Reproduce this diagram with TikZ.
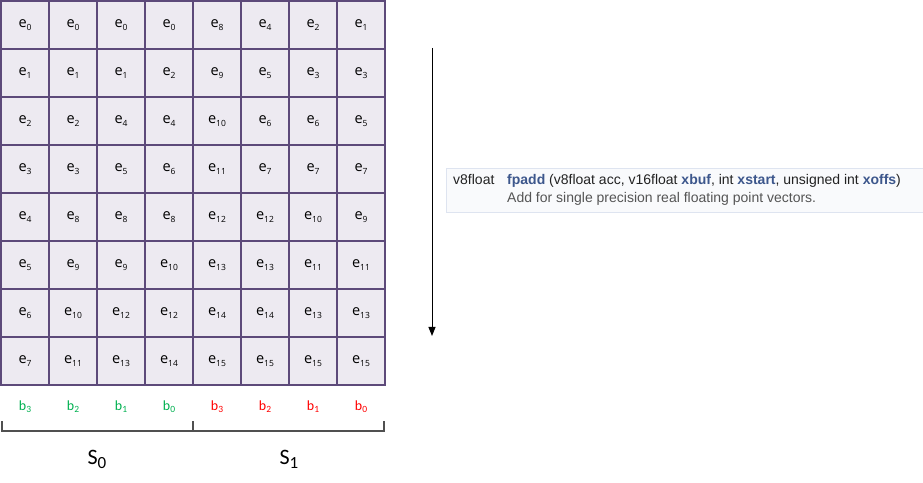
\documentclass[tikz,border=0pt]{standalone}
\usepackage{fontspec}
\usetikzlibrary{arrows.meta}
\newfontfamily\cellfont{Open Sans}
\newfontfamily\calfont{Carlito}
\newfontfamily\docfont{Liberation Sans}
\definecolor{cellfill}{HTML}{EDEAF1}
\definecolor{gridline}{HTML}{5D4A7A}
\definecolor{bgreen}{HTML}{00B050}
\definecolor{bred}{HTML}{FF0000}
\definecolor{fnblue}{HTML}{3D578C}
\definecolor{docborder}{HTML}{DEE4F0}
\definecolor{docfill}{HTML}{F9FAFC}
\definecolor{doctext}{HTML}{222222}
\definecolor{docdesc}{HTML}{555555}
\definecolor{bracketc}{HTML}{505050}
\newcommand\myE[1]{e\raisebox{-2.5bp}{\fontsize{8.5bp}{9bp}\selectfont #1}}
\newcommand\myB[1]{b\raisebox{-2bp}{\fontsize{9.5bp}{10bp}\selectfont #1}}
\newcommand\myS[1]{S\raisebox{-4bp}{\fontsize{17bp}{18bp}\selectfont #1}}
\newcommand\fnb[1]{\textcolor{fnblue}{\bfseries #1}}
\begin{document}
\begin{tikzpicture}[x=1bp,y=-1bp,
  cell/.style={draw=gridline,fill=cellfill,line width=1.2bp,minimum size=48bp,inner sep=0pt,
    font=\cellfont\fontsize{14.5bp}{16bp}\selectfont},
  blab/.style={inner sep=0pt,font=\calfont\fontsize{14bp}{16bp}\selectfont},
  slab/.style={inner sep=0pt,font=\calfont\fontsize{22bp}{24bp}\selectfont},
  doctxt/.style={inner sep=0pt,anchor=base west,font=\docfont\fontsize{14bp}{16bp}\selectfont},
  bracket/.style={draw=bracketc,line width=1.2bp},
  flowarrow/.style={draw=black,line width=1bp,-{Triangle[length=9bp,width=7bp]}}]
\useasboundingbox (0,0) rectangle (923,483);
% grid of cells
\foreach \vals [count=\r from 0] in {{0,0,0,0,8,4,2,1},{1,1,1,2,9,5,3,3},{2,2,4,4,10,6,6,5},{3,3,5,6,11,7,7,7},{4,8,8,8,12,12,10,9},{5,9,9,10,13,13,11,11},{6,10,12,12,14,14,13,13},{7,11,13,14,15,15,15,15}}{
  \foreach \v [count=\c from 0] in \vals {
    \node[cell] (c\r-\c) at ({25+48*\c},{25+48*\r}) {\myE{\v}};
  }
}
% bit labels
\foreach \b [count=\i from 0] in {3,2,1,0}{
  \node[blab,text=bgreen] (g\i) at ({25+48*\i},407) {\myB{\b}};
  \node[blab,text=bred] (h\i) at ({217+48*\i},407) {\myB{\b}};
}
% brackets
\coordinate (bl1) at (2,421);
\coordinate (bl2) at (2,431);
\coordinate (bm1) at (193,421);
\coordinate (bm2) at (193,431);
\coordinate (br1) at (384,421);
\coordinate (br2) at (384,431);
\draw[bracket] (bl1) -- (bl2) -- (br2) -- (br1);
\draw[bracket] (bm1) -- (bm2);
\node[slab] (s0) at (97,459) {\myS{0}};
\node[slab] (s1) at (289,459) {\myS{1}};
% arrow
\coordinate (atop) at (432,48);
\coordinate (abot) at (432,336);
\draw[flowarrow] (atop) -- (abot);
% doc box
\draw[draw=docborder,fill=docfill,line width=1bp] (446,169) rectangle (923.5,213);
\node[doctxt,text=doctext] (rtype) at (453,185) {v8float};
\node[doctxt,text=doctext] (sig) at (507,185) {\fnb{fpadd} (v8float acc, v16float \fnb{xbuf}, int \fnb{xstart}, unsigned int \fnb{xoffs})};
\node[doctxt,text=docdesc] (desc) at (507,203) {Add for single precision real floating point vectors.};
\end{tikzpicture}
\end{document}
